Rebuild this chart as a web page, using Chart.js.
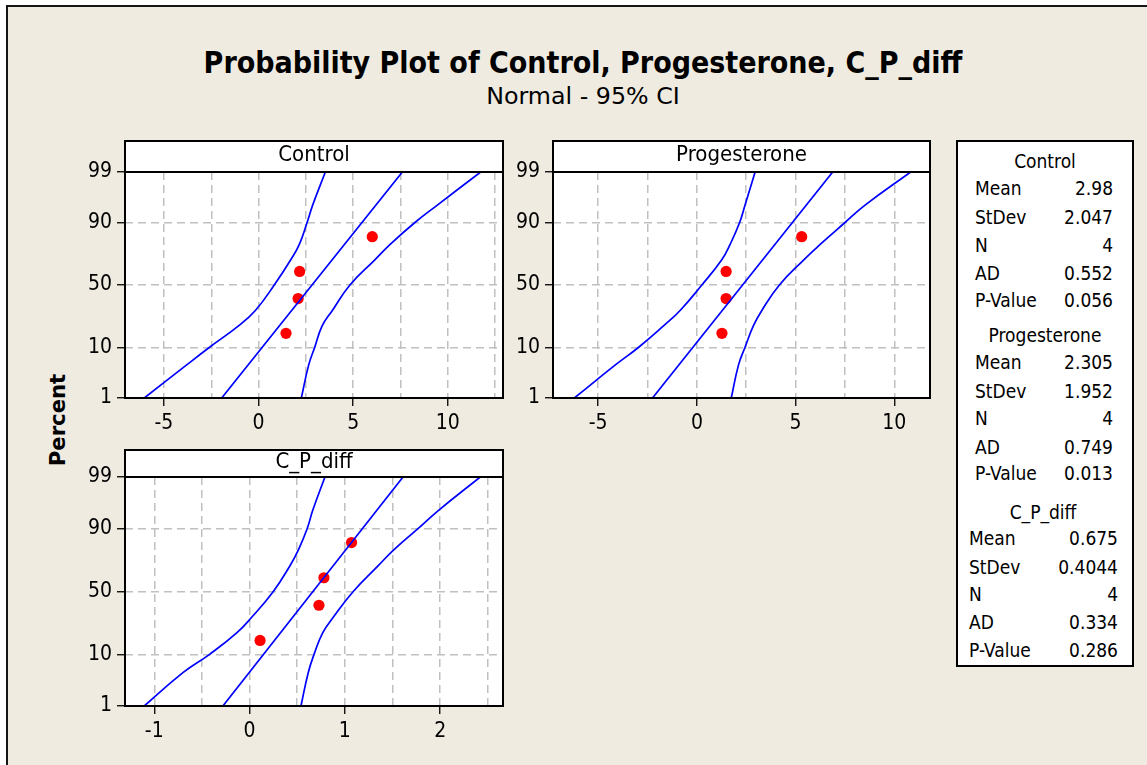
<!DOCTYPE html>
<html><head><meta charset="utf-8">
<script src="https://cdn.jsdelivr.net/npm/chart.js@4.4.1/dist/chart.umd.min.js"></script>
<style>
html,body{margin:0;padding:0;background:#fff;}
body{width:1147px;height:765px;overflow:hidden;position:relative;font-family:"DejaVu Sans Condensed","DejaVu Sans",sans-serif;color:#000;}
#frame{position:absolute;left:6px;top:5px;width:1200px;height:800px;border:2px solid #141414;background:#efebe1;}
canvas{position:absolute;}
.fit{position:absolute;white-space:nowrap;transform-origin:50% 50%;}
#title{font-weight:bold;font-size:31px;left:582.5px;top:62px;}
#subtitle{font-size:23px;left:583px;top:96px;}
#ylab{font-weight:bold;font-size:22px;left:57px;top:420px;}
#legend{position:absolute;left:956px;top:140px;width:174px;height:523px;border:2px solid #000;background:#fff;}
.row{position:absolute;font-size:19px;line-height:22px;height:22px;white-space:nowrap;}
</style></head>
<body>
<div id="frame"></div>
<div id="title" class="fit">Probability Plot of Control, Progesterone, C_P_diff</div>
<div id="subtitle" class="fit">Normal - 95% CI</div>
<div id="ylab" class="fit">Percent</div>
<canvas id="c1" width="470" height="300" style="left:40px;top:140px"></canvas>
<canvas id="c2" width="460" height="300" style="left:480px;top:140px"></canvas>
<canvas id="c3" width="470" height="300" style="left:40px;top:445px"></canvas>
<div id="legendLayer"></div>
<script>
// ---------- data ----------
const percentTicks = [1, 10, 50, 90, 99];
const curvePercents = [1, 5, 10, 20, 30, 50, 70, 80, 90, 95, 99];
const fitPercents = [1, 99];
const pointPercents = [16, 39, 61, 84];

const controlUpperBand = [-6.04, -3.8, -2.59, -1.06, -0.17, 0.83, 1.71, 2.16, 2.56, 2.86, 3.53];
const controlFit = [-1.95, 7.6];
const controlLowerBand = [2.26, 2.65, 2.97, 3.36, 3.90, 4.83, 6.16, 6.97, 8.25, 9.45, 11.74];
const controlPoints = [1.45, 2.09, 2.17, 6.01];

const progUpperBand = [-6.21, -4.13, -2.95, -1.69, -0.85, 0.25, 1.27, 1.69, 2.16, 2.44, 2.95];
const progFit = [-2.25, 6.88];
const progLowerBand = [1.74, 2.11, 2.44, 2.86, 3.29, 4.18, 5.43, 6.26, 7.49, 8.52, 10.83];
const progPoints = [1.27, 1.48, 1.48, 5.31];

const diffUpperBand = [-1.105, -0.696, -0.423, -0.135, 0.022, 0.249, 0.424, 0.511, 0.605, 0.662, 0.791];
const diffFit = [-0.28, 1.61];
const diffLowerBand = [0.539, 0.616, 0.676, 0.767, 0.878, 1.088, 1.35, 1.51, 1.77, 1.98, 2.42];
const diffPoints = [0.11, 0.728, 0.78, 1.07];

const controlGrid = [-5, -2.5, 0, 2.5, 5, 7.5, 10, 12.5];
const progGrid = [-5, -2.5, 0, 2.5, 5, 7.5, 10];
const wideLabels = [-5, 0, 5, 10];
const diffGrid = [-1, -0.5, 0, 0.5, 1, 1.5, 2, 2.5];
const diffLabels = [-1, 0, 1, 2];

const statNames = ['Mean', 'StDev', 'N', 'AD', 'P-Value'];
const controlStats = ['2.98', '2.047', '4', '0.552', '0.056'];
const progStats = ['2.305', '1.952', '4', '0.749', '0.013'];
const diffStats = ['0.675', '0.4044', '4', '0.334', '0.286'];

// ---------- helpers ----------
const FONT = '"DejaVu Sans Condensed","DejaVu Sans",sans-serif';
function probit(p){
  const a=[-3.969683028665376e+01,2.209460984245205e+02,-2.759285104469687e+02,1.383577518672690e+02,-3.066479806614716e+01,2.506628277459239e+00];
  const b=[-5.447609879822406e+01,1.615858368580409e+02,-1.556989798598866e+02,6.680131188771972e+01,-1.328068155288572e+01];
  const c=[-7.784894002430293e-03,-3.223964580411365e-01,-2.400758277161838e+00,-2.549732539343734e+00,4.374664141464968e+00,2.938163982698783e+00];
  const d=[7.784695709041462e-03,3.224671290700398e-01,2.445134137142996e+00,3.754408661907416e+00];
  const pl=0.02425, ph=1-pl; let q, r;
  if (p < pl) { q=Math.sqrt(-2*Math.log(p)); return (((((c[0]*q+c[1])*q+c[2])*q+c[3])*q+c[4])*q+c[5])/((((d[0]*q+d[1])*q+d[2])*q+d[3])*q+1); }
  if (p <= ph) { q=p-0.5; r=q*q; return (((((a[0]*r+a[1])*r+a[2])*r+a[3])*r+a[4])*r+a[5])*q/(((((b[0]*r+b[1])*r+b[2])*r+b[3])*r+b[4])*r+1); }
  q=Math.sqrt(-2*Math.log(1-p)); return -(((((c[0]*q+c[1])*q+c[2])*q+c[3])*q+c[4])*q+c[5])/((((d[0]*q+d[1])*q+d[2])*q+d[3])*q+1);
}
function cdf(z){
  const t=1/(1+0.2316419*Math.abs(z));
  const y=t*(0.319381530+t*(-0.356563782+t*(1.781477937+t*(-1.821255978+t*1.330274429))));
  const p=1-Math.exp(-z*z/2)/Math.sqrt(2*Math.PI)*y;
  return z>=0?p:1-p;
}
class ProbitScale extends Chart.LinearScale {
  getPixelForValue(value){
    const z0=probit(this.min/100), z1=probit(this.max/100);
    return this.getPixelForDecimal((probit(value/100)-z0)/(z1-z0));
  }
  getValueForPixel(pixel){
    const z0=probit(this.min/100), z1=probit(this.max/100);
    return 100*cdf(z0+this.getDecimalForPixel(pixel)*(z1-z0));
  }
  buildTicks(){ return percentTicks.map(v=>({value:v})); }
}
ProbitScale.id='probit';
ProbitScale.defaults=Chart.LinearScale.defaults;
Chart.register(ProbitScale);

const headerPlugin = {
  id:'panelHeader',
  beforeDraw(chart, args, o){
    const {ctx, chartArea:a}=chart;
    ctx.save(); ctx.fillStyle='#fff';
    ctx.fillRect(a.left, a.top-o.height, a.right-a.left, a.bottom-a.top+o.height);
    ctx.restore();
  },
  afterDraw(chart, args, o){
    const {ctx, chartArea:a}=chart;
    ctx.save();
    ctx.strokeStyle='#000'; ctx.lineWidth=2;
    ctx.strokeRect(a.left, a.top-o.height, a.right-a.left, a.bottom-a.top+o.height);
    ctx.beginPath(); ctx.moveTo(a.left,a.top); ctx.lineTo(a.right,a.top); ctx.stroke();
    ctx.fillStyle='#000'; ctx.font='22px '+FONT; ctx.textAlign='center'; ctx.textBaseline='middle';
    ctx.fillText(o.text, (a.left+a.right)/2, a.top-o.height/2+o.dy);
    ctx.restore();
  }
};

const zip = (xs, ps) => xs.map((x,i)=>({x:x, y:ps[i]}));
const GRIDC = '#c0c0c0';
function makePanel(id, p){
  const line = (xs, ps) => ({data:zip(xs, ps), showLine:true, borderColor:'#0000ff', borderWidth:1.7,
    pointRadius:0, pointHoverRadius:0, tension:0.45, fill:false});
  new Chart(document.getElementById(id), {
    type:'scatter',
    data:{datasets:[
      line(p.upper, curvePercents),
      line(p.fit, fitPercents),
      line(p.lower, curvePercents),
      {data:zip(p.points, pointPercents), showLine:false, pointRadius:5.6, pointHoverRadius:5.6,
       backgroundColor:'#ff0000', borderColor:'#ff0000', borderWidth:0}
    ]},
    options:{
      responsive:false, devicePixelRatio:1, animation:false, events:[],
      layout:{padding:{top:p.padTop, right:p.padRight, left:0, bottom:0}},
      plugins:{legend:{display:false}, tooltip:{enabled:false}, panelHeader:{text:p.header, height:p.headerH, dy:-1}},
      scales:{
        x:{type:'linear', min:p.xMin, max:p.xMax,
          afterBuildTicks:s=>{ s.ticks=p.grid.map(v=>({value:v})); },
          afterFit:s=>{ s.height=p.xH; },
          ticks:{autoSkip:false, maxRotation:0, minRotation:0, padding:5, color:'#000', font:{family:FONT, size:21},
            callback:v=>p.labels.includes(v)?String(v):''},
          grid:{color:GRIDC, lineWidth:1.5, tickLength:8, tickWidth:1.3, tickBorderDash:[],
            tickColor:c=>(c.tick && p.labels.includes(c.tick.value))?'#000':'rgba(0,0,0,0)'},
          border:{display:false, dash:[8,5]}
        },
        y:{type:'probit', min:1, max:99,
          afterFit:s=>{ s.width=p.yW; },
          ticks:{autoSkip:false, padding:5, color:'#000', font:{family:FONT, size:21}, callback:v=>String(v)},
          grid:{lineWidth:1.5, tickLength:8, tickWidth:1.3, tickBorderDash:[], tickColor:'#000',
            color:c=>(c.tick && (c.tick.value===1||c.tick.value===99))?'rgba(0,0,0,0)':GRIDC},
          border:{display:false, dash:[8,5]}
        }
      }
    },
    plugins:[headerPlugin]
  });
}

makePanel('c1', {header:'Control', headerH:31, padTop:32, padRight:7, yW:85, xH:42,
  xMin:-7.06, xMax:12.92, grid:controlGrid, labels:wideLabels,
  upper:controlUpperBand, fit:controlFit, lower:controlLowerBand, points:controlPoints});
makePanel('c2', {header:'Progesterone', headerH:31, padTop:32, padRight:10, yW:73, xH:42,
  xMin:-7.29, xMax:11.81, grid:progGrid, labels:wideLabels,
  upper:progUpperBand, fit:progFit, lower:progLowerBand, points:progPoints});
makePanel('c3', {header:'C_P_diff', headerH:27, padTop:32, padRight:7, yW:85, xH:39,
  xMin:-1.307, xMax:2.659, grid:diffGrid, labels:diffLabels,
  upper:diffUpperBand, fit:diffFit, lower:diffLowerBand, points:diffPoints});

// ---------- legend (stats box) ----------
const legendGroups = [
  {name:'Control', stats:controlStats, headY:161, ys:[188.3,216.7,245,273.3,300], lx:975, rx:1113, cx:1045},
  {name:'Progesterone', stats:progStats, headY:335, ys:[361.7,391,418.3,446.7,473.3], lx:975, rx:1113, cx:1045},
  {name:'C_P_diff', stats:diffStats, headY:511.7, ys:[538.3,566.7,594.3,622.3,650], lx:969, rx:1118, cx:1043}
];
const layer=document.getElementById('legendLayer');
layer.innerHTML='<div id="legend"></div>';
legendGroups.forEach(g=>{
  const h=document.createElement('div'); h.className='row'; h.textContent=g.name;
  h.style.left=(g.cx-100)+'px'; h.style.width='200px'; h.style.textAlign='center'; h.style.top=(g.headY-11)+'px';
  layer.appendChild(h);
  statNames.forEach((n,i)=>{
    const l=document.createElement('div'); l.className='row'; l.textContent=n;
    l.style.left=g.lx+'px'; l.style.top=(g.ys[i]-11)+'px'; layer.appendChild(l);
    const v=document.createElement('div'); v.className='row'; v.textContent=g.stats[i];
    v.style.left=(g.rx-120)+'px'; v.style.width='120px'; v.style.textAlign='right'; v.style.top=(g.ys[i]-11)+'px';
    layer.appendChild(v);
  });
});

function fitText(id, w, rot){
  const el=document.getElementById(id);
  const k=w/el.offsetWidth;
  el.style.transform='translate(-50%,-50%) '+(rot?'rotate(-90deg) ':'')+'scaleX('+k+')';
}
fitText('title', 759); fitText('subtitle', 194); fitText('ylab', 92, true);
</script>
</body></html>
